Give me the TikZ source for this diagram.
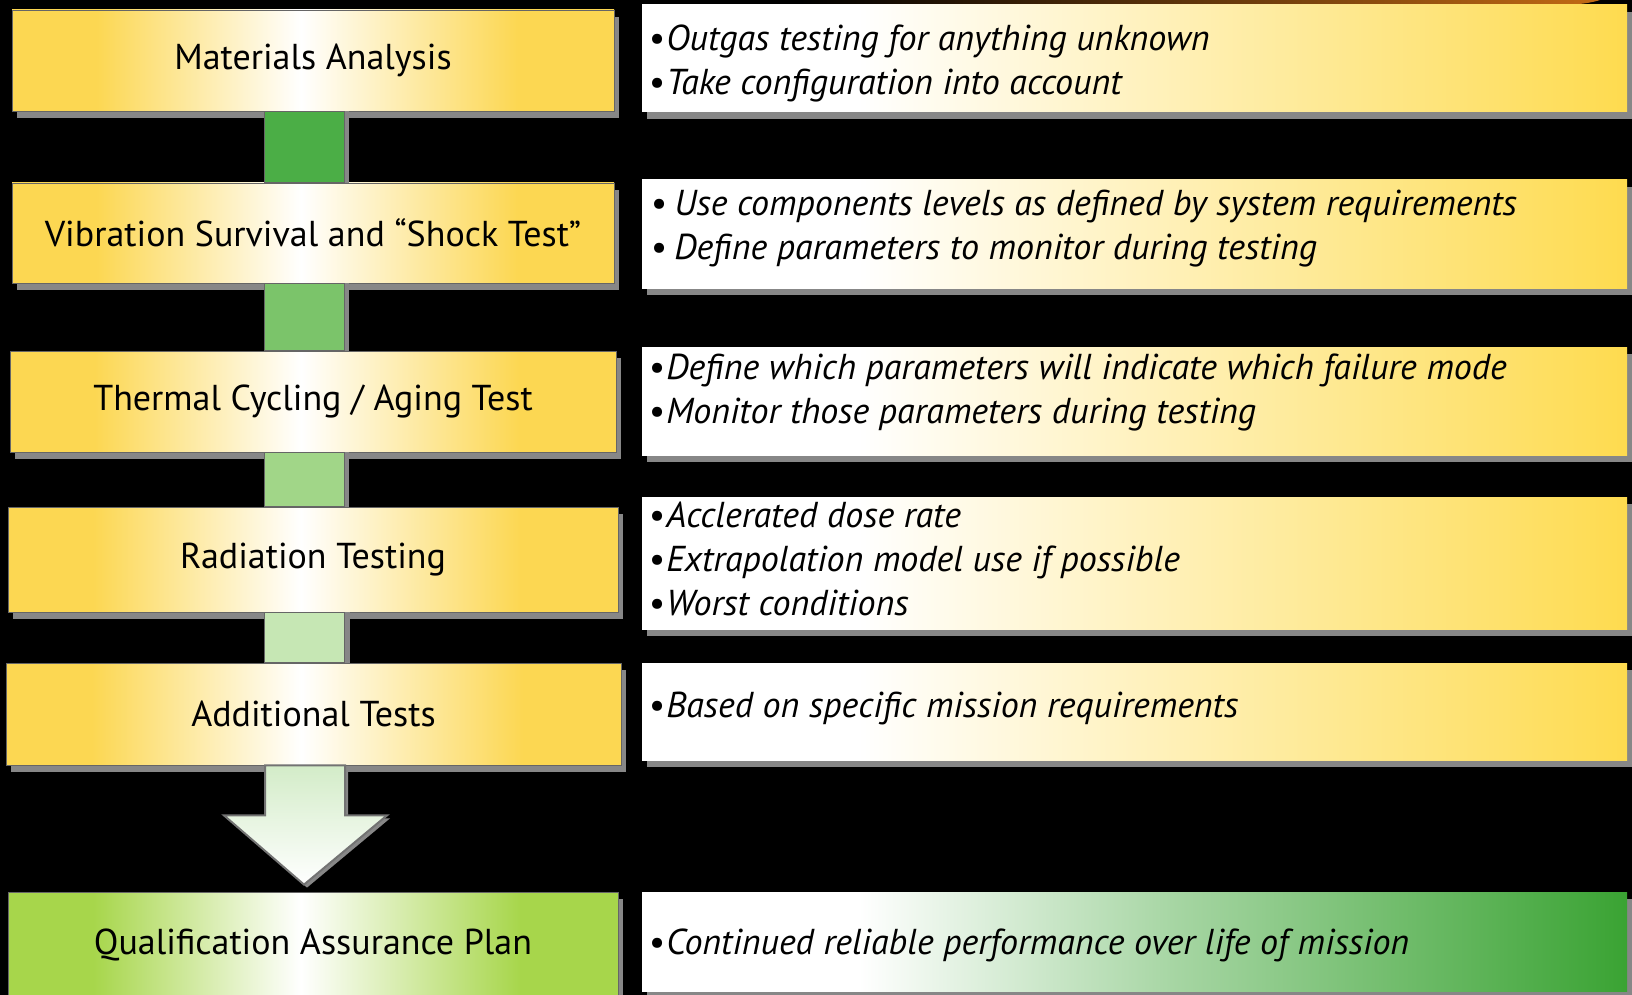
\documentclass[tikz,border=0pt]{standalone}
\usepackage{fontspec}
\setmainfont{PT Sans}
\usepackage{tikz}
\usetikzlibrary{positioning,calc,shadows}

\definecolor{boxyellow}{HTML}{FCD752}
\definecolor{noteyellow}{HTML}{FEDB4F}
\definecolor{planlime}{HTML}{A7D64B}
\definecolor{plangreen}{HTML}{3AA333}
\definecolor{linkA}{HTML}{4BAE46}
\definecolor{linkB}{HTML}{7BC46A}
\definecolor{linkC}{HTML}{A1D688}
\definecolor{linkD}{HTML}{C6E7B4}
\definecolor{arrowtop}{HTML}{D3ECC8}
\definecolor{bandorange}{HTML}{C26A14}

\pgfdeclarehorizontalshading{stepshade}{100bp}{color(0bp)=(boxyellow); color(32bp)=(boxyellow); color(49bp)=(white); color(67bp)=(boxyellow); color(100bp)=(boxyellow)}
\pgfdeclarehorizontalshading{planshade}{100bp}{color(0bp)=(planlime); color(32bp)=(planlime); color(49bp)=(white); color(67bp)=(planlime); color(100bp)=(planlime)}
\pgfdeclarehorizontalshading{noteshade}{100bp}{color(0bp)=(white); color(36bp)=(white); color(75bp)=(noteyellow); color(100bp)=(noteyellow)}
\pgfdeclarehorizontalshading{endshade}{100bp}{color(0bp)=(white); color(36bp)=(white); color(52bp)=(plangreen!45); color(75bp)=(plangreen); color(100bp)=(plangreen)}

\tikzset{
    boxshadow/.style={drop shadow={shadow xshift=5pt, shadow yshift=-7pt, fill=black!47, opacity=1}},
    stepbox/.style={rectangle, minimum width=602pt, minimum height=101pt, inner sep=0pt,
        shading=stepshade, draw=black!60, line width=0.8pt, boxshadow,
        font=\fontsize{36}{42}\selectfont},
    notebox/.style={rectangle, minimum width=985pt, inner sep=0pt, shading=noteshade, boxshadow},
    notetext/.style={anchor=base west, align=left, inner sep=0pt,
        font=\fontsize{36}{44}\selectfont\itshape},
    link/.style={draw=black!60, line width=0.8pt},
    linkshadow/.style={fill=black!47}
}

\begin{document}
\begin{tikzpicture}[x=1pt, y=-1pt]
    \useasboundingbox (0,0) rectangle (1632,995);
    \fill[black] (0,0) rectangle (1632,995);

    \fill[left color=black, right color=bandorange]
        (800,0) -- (1600,0) .. controls (1585,5) and (1560,6) .. (1520,6) -- (800,6) -- cycle;

    % test steps
    \node[stepbox] (mat) at (313,60.5) {Materials Analysis};
    \node[stepbox, minimum height=100pt] (vib) at (313,233) {Vibration Survival and “Shock Test”};
    \node[stepbox, minimum width=606pt] (thm) at (313,401.5) {Thermal Cycling / Aging Test};
    \node[stepbox, minimum width=610pt, minimum height=105pt] (rad) at (313,559.5) {Radiation Testing};
    \node[stepbox, minimum width=615pt, minimum height=102pt] (add) at (313.5,714) {Additional Tests};
    \node[stepbox, minimum width=610pt, minimum height=106pt, shading=planshade] (qap) at (313,945) {Qualification Assurance Plan};

    % notes
    \node[notebox, minimum height=107pt] (n1) at (1134.5,58.5) {};
    \node[notebox, minimum height=108pt] (n2) at (1134.5,234) {};
    \node[notebox, minimum height=108pt] (n3) at (1134.5,401) {};
    \node[notebox, minimum height=132pt] (n4) at (1134.5,563) {};
    \node[notebox, minimum height=97pt] (n5) at (1134.5,711.5) {};
    \node[notebox, minimum height=99pt, shading=endshade] (n6) at (1134.5,941.5) {};

    \node[notetext] (n1t) at ($(n1.north west)+(6,90)$)
        {•\hspace{2pt}Outgas testing for anything unknown\\ •\hspace{2pt}Take configuration into account};
    \node[notetext] (n2t) at ($(n2.north west)+(8,80)$)
        {•\hspace{8pt}Use components levels as defined by system requirements\\ •\hspace{8pt}Define parameters to monitor during testing};
    \node[notetext] (n3t) at ($(n3.north west)+(6,77)$)
        {•\hspace{2pt}Define which parameters will indicate which failure mode\\ •\hspace{2pt}Monitor those parameters during testing};
    \node[notetext] (n4t) at ($(n4.north west)+(6,119)$)
        {•\hspace{2pt}Acclerated dose rate\\ •\hspace{2pt}Extrapolation model use if possible\\ •\hspace{2pt}Worst conditions};
    \node[notetext] (n5t) at ($(n5.north west)+(6,55)$)
        {•\hspace{2pt}Based on specific mission requirements};
    \node[notetext] (n6t) at ($(n6.north west)+(6,63)$)
        {•\hspace{2pt}Continued reliable performance over life of mission};

    % links between steps
    \foreach \a/\b/\c in {mat/vib/linkA, vib/thm/linkB, thm/rad/linkC, rad/add/linkD}{
        \fill[linkshadow] ($(\a.south)+(31,0)$) rectangle ($(\b.north)+(36,0)$);
        \draw[link, fill=\c] ($(\a.south)+(-49,0)$) rectangle ($(\b.north)+(31,0)$);
    }

    % big arrow
    \draw[draw=black!55, line width=2pt, top color=arrowtop, bottom color=white,
          drop shadow={shadow xshift=3pt, shadow yshift=-3pt, fill=black!47, opacity=1}]
        ($(add.south)+(-48.5,0)$) -- ($(add.south)+(31.5,0)$)
        -- ($(add.south)+(31.5,50)$) -- ($(add.south)+(73.5,50)$)
        -- ($(qap.north)+(-9,-7)$)
        -- ($(add.south)+(-89.5,50)$) -- ($(add.south)+(-48.5,50)$) -- cycle;
\end{tikzpicture}
\end{document}
